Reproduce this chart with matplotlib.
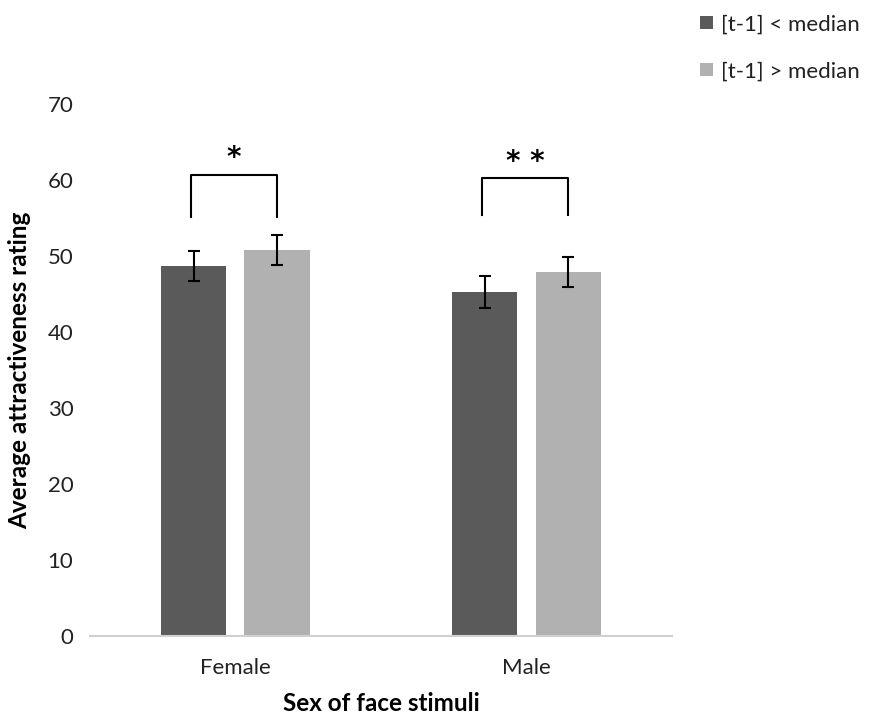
import matplotlib
matplotlib.use("Agg")
import matplotlib.pyplot as plt
import numpy as np

categories = ["Female", "Male"]
series_names = ["[t-1] < median", "[t-1] > median"]
low_vals = [48.7, 45.3]
high_vals = [50.8, 47.9]
low_err = [2.0, 2.1]
high_err = [2.0, 2.0]
sig_labels = ["*", "**"]
yticks = [0, 10, 20, 30, 40, 50, 60, 70]

plt.rcParams['font.family'] = ['Lato', 'DejaVu Sans']

fig = plt.figure(figsize=(8.7, 7.18), dpi=100)
ax = fig.add_axes([0.1034, 0.1142, 0.669, 0.7408])

x = np.arange(len(categories))
w = 0.224
off = 0.143
c_dark = "#5a5a5a"
c_light = "#b1b1b1"
txt = "#222222"

b1 = ax.bar(x - off, low_vals, w, color=c_dark, label=series_names[0], zorder=2)
b2 = ax.bar(x + off, high_vals, w, color=c_light, label=series_names[1], zorder=2)
ax.errorbar(x - off, low_vals, yerr=low_err, fmt='none', ecolor='black', elinewidth=1.5, capsize=4.5, capthick=1.5, zorder=3)
ax.errorbar(x + off, high_vals, yerr=high_err, fmt='none', ecolor='black', elinewidth=1.5, capsize=4.5, capthick=1.5, zorder=3)

bracket_top = [60.7, 60.3]
bracket_bot = [55.1, 55.4]
for i in range(len(categories)):
    xl, xr = x[i] - off - 0.01, x[i] + off
    ax.plot([xl, xl, xr, xr], [bracket_bot[i], bracket_top[i], bracket_top[i], bracket_bot[i]],
            color='black', lw=1.5, zorder=3)
    ax.text((xl + xr) / 2, bracket_top[i] + 0.3, " ".join(sig_labels[i]), ha='center', va='bottom',
            fontsize=20, fontweight='bold', family='DejaVu Sans')

ax.set_xlim(-0.5, 1.5)
ax.set_ylim(0, 70)
ax.set_yticks(yticks)
ax.set_xticks(x)
ax.set_xticklabels(categories)
ax.tick_params(axis='both', length=0, labelsize=16, colors=txt)
ax.tick_params(axis='x', pad=16)
ax.tick_params(axis='y', pad=12)
for s in ['top', 'right', 'left']:
    ax.spines[s].set_visible(False)
ax.spines['bottom'].set_color('#d0d0d0')
ax.spines['bottom'].set_linewidth(1.5)

ax.set_ylabel("Average attractiveness rating", fontsize=17.5, fontweight='bold', labelpad=12, color='black')
ax.set_xlabel("Sex of face stimuli", fontsize=17.5, fontweight='bold', labelpad=10, color='black')

leg = fig.legend(handles=[b1, b2], loc='upper left', bbox_to_anchor=(0.782, 1.008), frameon=False,
                 fontsize=16, handlelength=0.55, handleheight=0.55, labelspacing=1.22, handletextpad=0.4)
for t in leg.get_texts():
    t.set_color(txt)

fig.savefig("out.png", dpi=100)
